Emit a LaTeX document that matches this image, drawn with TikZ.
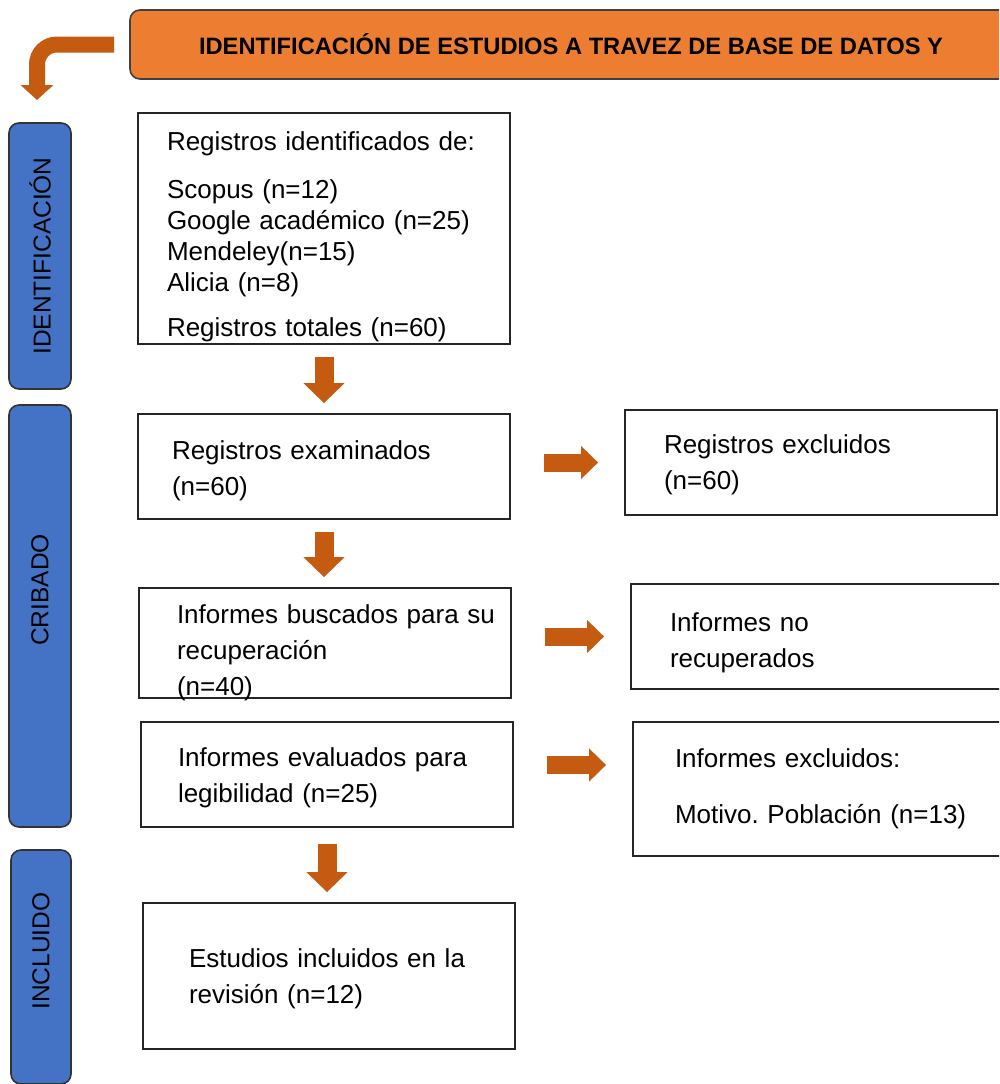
\documentclass[tikz,border=0pt]{standalone}
\usepackage{fontspec}
\setmainfont{Liberation Sans}
\usetikzlibrary{shapes,arrows.meta,positioning,calc}

\definecolor{headorange}{HTML}{ED7D31}
\definecolor{arroworange}{HTML}{C55A11}
\definecolor{phaseblue}{HTML}{4472C4}

\frenchspacing
\tikzset{process/.style={rectangle, minimum width=372pt, inner xsep=0pt, inner ysep=0pt, text width=372pt, text height=25pt, align=left, draw=black!85, line width=1.8pt, fill=white, font=\fontsize{26}{36}\selectfont, execute at begin node={\leftskip=#1\relax}}, process/.default=36pt}

\begin{document}
\begin{tikzpicture}[x=1pt, y=-1pt]
    % Define block styles
    \tikzstyle{header} = [rectangle, rounded corners=10pt, minimum width=882pt, minimum height=69pt, text centered, draw=black!75, line width=1.6pt, fill=headorange, font=\fontsize{23.7}{28}\selectfont\bfseries]
    \tikzstyle{phase} = [rectangle, rounded corners=10pt, rotate=90, minimum height=62pt, text centered, draw=black!80, line width=1.6pt, fill=phaseblue, font=\fontsize{24.5}{28}\selectfont]
    \tikzstyle{downarrow} = [line width=19pt, draw=arroworange, -{Triangle[width=40pt,length=20pt]}, shorten <=12pt, shorten >=10pt]
    \tikzstyle{rightarrow} = [line width=18pt, draw=arroworange, -{Triangle[width=32pt,length=17pt]}, shorten <=33pt, shorten >=26pt]
    \tikzstyle{bentarrow} = [line width=16pt, draw=arroworange, rounded corners=20pt, -{Triangle[width=32pt,length=15pt]}, shorten <=15pt]

    \useasboundingbox (0,0) rectangle (999,1084);
    \clip (0,0) rectangle (999,1084);

    % Header and phases
    \node (header) [header] at (571,44.5) {IDENTIFICACIÓN DE ESTUDIOS A TRAVEZ DE BASE DE DATOS Y};
    \coordinate (turn) at (37,100);
    \node (ident) [phase, minimum width=266pt] at (40,256) {IDENTIFICACIÓN};
    \node (crib) [phase, minimum width=422pt] at (40,616) {\hspace*{52pt}CRIBADO};
    \node (incl) [phase, minimum width=234pt, minimum height=60pt] at (41,967) {\hspace*{32pt}INCLUIDO};

    % Nodes
    \node (regid) [process=29pt, minimum height=231pt, text height=35pt, font=\fontsize{26}{31}\selectfont] at (324,228.5) {Registros identificados de:\\[17pt]Scopus (n=12)\\Google académico (n=25)\\Mendeley(n=15)\\Alicia (n=8)\\[14pt]Registros totales (n=60)};
    \node (regexam) [process=34pt, minimum height=105pt, text height=27pt] at (324,466.5) {Registros examinados\\(n=60)};
    \node (regexcl) [process=39pt, minimum height=105pt, text height=23pt] at (811,462.5) {Registros excluidos\\(n=60)};
    \node (infbusc) [process=38pt, minimum height=110pt, text height=35pt, text depth=75pt] at (325,643) {Informes buscados para su\\recuperación\\(n=40)};
    \node (norec) [process=39pt, minimum height=105pt, text height=31pt] at (817,636.5) {Informes no\\recuperados};
    \node (infeval) [process=37pt, minimum height=105pt] at (327,774.5) {Informes evaluados para\\legibilidad (n=25)};
    \node (infexcl) [process=42pt, minimum height=134pt, text height=19pt] at (819,789) {Informes excluidos:\\[20pt]Motivo. Población (n=13)};
    \node (estincl) [process=46pt, minimum height=146pt] at (329,976) {Estudios incluidos en la\\revisión (n=12)};

    % Arrows between nodes
    \draw [bentarrow] (header.west) -| (turn);
    \draw [downarrow] (regid.south) -- (regid.south |- regexam.north);
    \draw [downarrow] (regexam.south) -- (regexam.south |- infbusc.north);
    \draw [downarrow, shorten <=16pt] (infeval.south) -- (infeval.south |- estincl.north);
    \draw [rightarrow] (regexam.east |- regexcl.west) -- (regexcl.west);
    \draw [rightarrow] (infbusc.east |- norec.west) -- (norec.west);
    \draw [rightarrow] ([yshift=9.5pt]infeval.east) -- ([yshift=9.5pt]infeval.east -| infexcl.west);
\end{tikzpicture}
\end{document}
